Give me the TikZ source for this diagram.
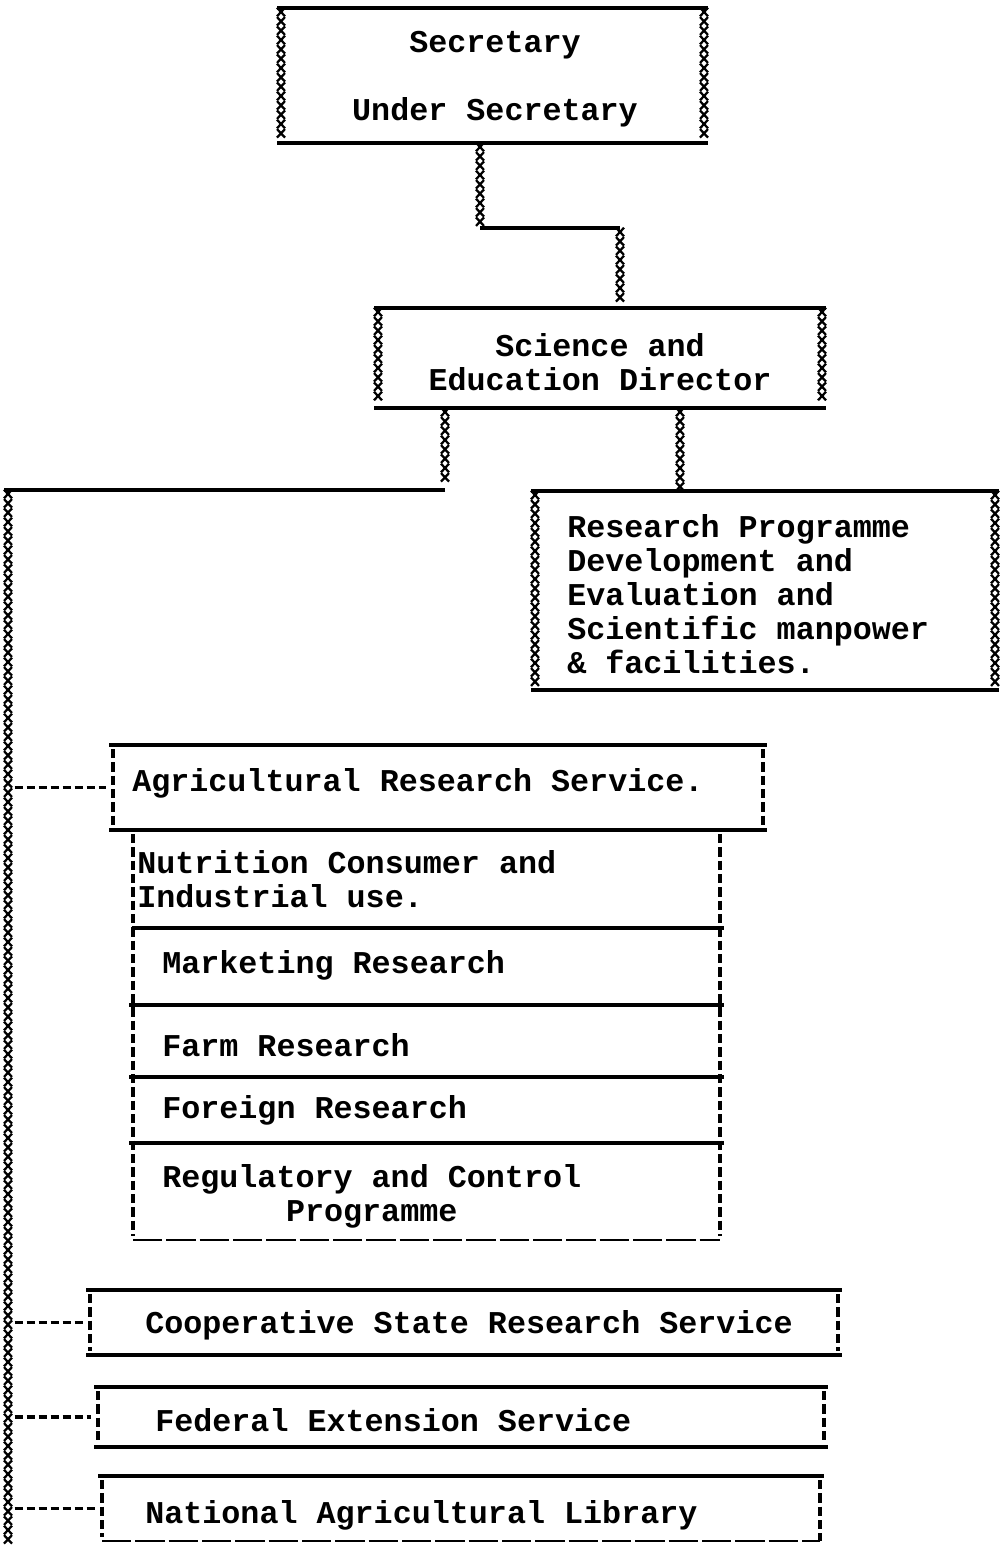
\documentclass[tikz,border=0pt]{standalone}
\usepackage{fontspec}
\newfontfamily\typew{Liberation Mono}
\usetikzlibrary{fit,decorations.markings}
\tikzset{
  frame/.style={inner sep=0pt, outer sep=0pt, draw=none},
  solidln/.style={line width=2.6pt, shorten <=-3pt, shorten >=-3pt},
  thinln/.style={line width=1.6pt, dash pattern=on 22pt off 3pt},
  dashln/.style={line width=2.8pt, dash pattern=on 7pt off 3pt, shorten <=3pt, shorten >=3pt},
  linkdash/.style={line width=2.6pt, dash pattern=on 6pt off 3pt, shorten <=5pt, shorten >=5pt},
  chainln/.style={postaction={decorate, decoration={markings,
      mark=between positions 3pt and -3pt step 7pt with {
        \draw[line width=1.7pt] (-3.2pt,-3pt)--(3.2pt,3pt) (-3.2pt,3pt)--(3.2pt,-3pt);}}}},
  txt/.style={font={\typew\bfseries\fontsize{23.8}{25.5}\selectfont}, inner sep=0pt},
  ltxt/.style={txt, anchor=west, align=left},
}
\newcommand\chainframe[1]{%
  \draw[solidln] (#1.north west)--(#1.north east);
  \draw[solidln] (#1.south west)--(#1.south east);
  \path[chainln] (#1.north west)--(#1.south west);
  \path[chainln] (#1.north east)--(#1.south east);}
\newcommand\dashframe[1]{%
  \draw[solidln] (#1.north west)--(#1.north east);
  \draw[solidln] (#1.south west)--(#1.south east);
  \draw[dashln] (#1.north west)--(#1.south west);
  \draw[dashln] (#1.north east)--(#1.south east);}
\begin{document}
\begin{tikzpicture}[x=0.75pt,y=-0.75pt]
\useasboundingbox (0,0) rectangle (1000,1549);
% ---- boxes ----
\node[frame, fit={(281,8) (704,143)}] (sec) {};
\node[txt, align=center] (sectxt) at (495,79) {Secretary\\[25.5pt]Under Secretary};
\chainframe{sec}

\node[frame, fit={(378,308) (822,408)}] (sed) {};
\node[txt, align=center] (sedtxt) at (600,362) {Science and\\Education Director};
\chainframe{sed}

\node[frame, fit={(535,491) (995,690)}] (res) {};
\node[ltxt] (restxt) at (567,594) {Research Programme\\Development and\\Evaluation and\\Scientific manpower\\\& facilities.};
\chainframe{res}

\node[frame, fit={(113,745) (763,830)}] (ars) {};
\node[ltxt] (arstxt) at (132,783) {Agricultural Research Service.};
\dashframe{ars}

% ---- ARS sub-divisions ----
\node[frame, fit={(133,830) (720,928)}] (nut) {};
\node[frame, fit={(133,928) (720,1005)}] (mkt) {};
\node[frame, fit={(133,1005) (720,1077)}] (farm) {};
\node[frame, fit={(133,1077) (720,1143)}] (forr) {};
\node[frame, fit={(133,1143) (720,1240)}] (reg) {};
\node[ltxt] (nuttxt) at (137,879) {Nutrition Consumer and\\Industrial use.};
\node[ltxt] (mkttxt) at (162,965) {Marketing Research};
\node[ltxt] (farmtxt) at (162,1045) {Farm Research};
\node[ltxt] (fortxt) at (162,1110) {Foreign Research};
\node[txt, anchor=west, align=center] (regtxt) at (162,1196) {Regulatory and Control\\Programme};
\draw[solidln, shorten <=-1pt] (nut.south west)--(nut.south east);
\draw[solidln] (mkt.south west)--(mkt.south east);
\draw[solidln] (farm.south west)--(farm.south east);
\draw[solidln] (forr.south west)--(forr.south east);
\draw[thinln] (reg.south west)--(reg.south east);
\draw[dashln] (nut.north west)--(reg.south west);
\draw[dashln] (nut.north east)--(reg.south east);

% ---- other services ----
\node[frame, fit={(90,1290) (838,1355)}] (coop) {};
\node[ltxt] (cooptxt) at (145,1325) {Cooperative State Research Service};
\dashframe{coop}

\node[frame, fit={(98,1387) (824,1447)}] (fed) {};
\node[ltxt] (fedtxt) at (155,1420) {Federal Extension Service};
\dashframe{fed}

\node[frame, fit={(102,1476) (820,1541)}] (nal) {};
\node[ltxt] (naltxt) at (145,1515) {National Agricultural Library};
\draw[solidln] (nal.north west)--(nal.north east);
\draw[thinln] (nal.south west)--(nal.south east);
\draw[dashln] (nal.north west)--(nal.south west);
\draw[dashln, shorten >=0pt] (nal.north east)--(nal.south east);

% ---- connectors ----
\coordinate (tapC) at (480,228);
\coordinate (tapD) at (620,228);
\path[chainln] (sec.south -| tapC) -- (tapC);
\draw[solidln, shorten <=0pt, shorten >=0pt] (tapC) -- (tapD);
\path[chainln] (tapD) -- (sed.north -| tapD);

\coordinate (elbowA) at (445,490);
\coordinate (trunktop) at (8,490);
\coordinate (trunkbot) at (8,1552);
\path[chainln] (sed.south -| elbowA) -- (elbowA);
\draw[solidln, shorten <=0pt] (elbowA) -- (trunktop);
\path[chainln] (trunktop) -- (trunkbot);

\coordinate (tapB) at (680,0);
\path[chainln] (sed.south -| tapB) -- (res.north -| tapB);

\draw[linkdash] (ars.west -| trunktop) -- (ars.west);
\draw[linkdash] (coop.west -| trunktop) -- (coop.west);
\draw[linkdash] (fed.west -| trunktop) -- (fed.west);
\draw[linkdash] (nal.west -| trunktop) -- (nal.west);
\end{tikzpicture}
\end{document}
